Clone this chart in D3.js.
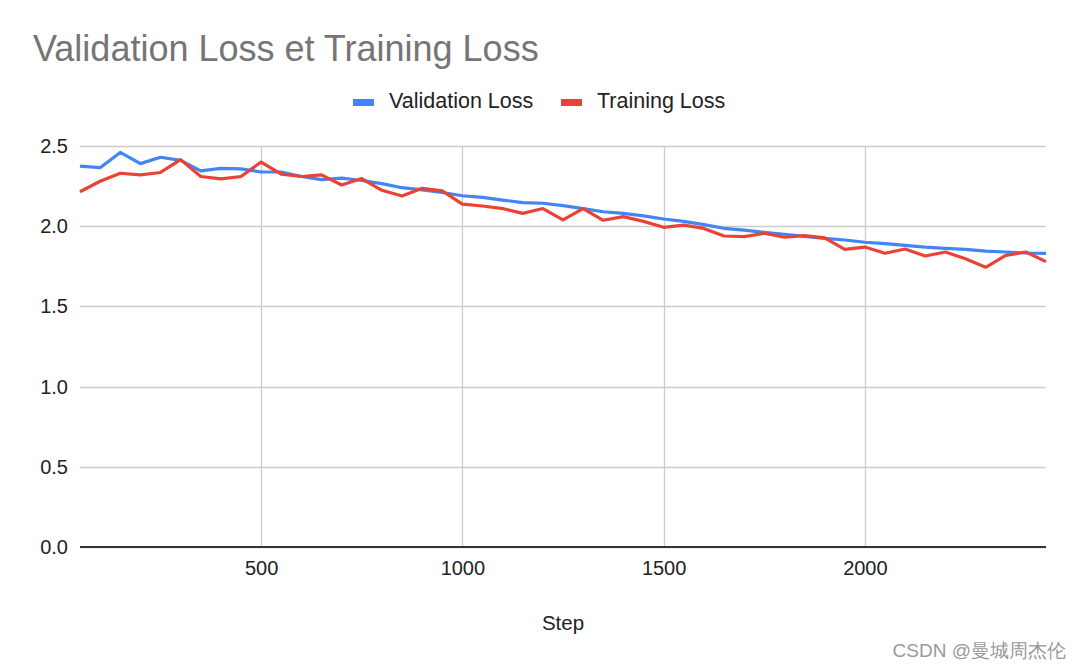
<!DOCTYPE html>
<html>
<head>
<meta charset="utf-8">
<script src="https://d3js.org/d3.v7.min.js"></script>
<style>
  body { margin: 0; background: #fff; }
  text { font-family: "Liberation Sans", Arial, sans-serif; }
</style>
</head>
<body>
<div id="chart"></div>
<script>
// steps 50..2450
var steps = [50,100,150,200,250,300,350,400,450,500,550,600,650,700,750,800,850,900,950,1000,
  1050,1100,1150,1200,1250,1300,1350,1400,1450,1500,1550,1600,1650,1700,1750,1800,1850,1900,1950,2000,
  2050,2100,2150,2200,2250,2300,2350,2400,2450];
var validationLoss = [2.375,2.365,2.46,2.39,2.43,2.41,2.345,2.36,2.357,2.338,2.338,2.31,2.29,2.30,2.285,2.265,2.24,2.226,2.21,2.19,
  2.18,2.163,2.147,2.143,2.128,2.11,2.09,2.08,2.064,2.045,2.03,2.01,1.987,1.976,1.962,1.95,1.937,1.924,1.914,1.90,
  1.891,1.881,1.87,1.862,1.856,1.845,1.839,1.833,1.831];
var trainingLoss = [2.215,2.28,2.33,2.32,2.335,2.415,2.31,2.295,2.31,2.40,2.325,2.31,2.32,2.257,2.297,2.224,2.188,2.236,2.22,2.138,
  2.126,2.11,2.08,2.11,2.04,2.11,2.037,2.06,2.03,1.993,2.007,1.986,1.939,1.935,1.956,1.931,1.941,1.927,1.856,1.87,
  1.831,1.858,1.814,1.839,1.797,1.744,1.818,1.839,1.779];
var yTicks = [0, 0.5, 1.0, 1.5, 2.0, 2.5];
var xTicks = [500, 1000, 1500, 2000];

var W = 1080, H = 668;
var margin = {top: 146, right: 34, bottom: 121, left: 80};
var w = W - margin.left - margin.right, h = H - margin.top - margin.bottom;

var svg = d3.select('#chart').append('svg').attr('width', W).attr('height', H);

svg.append('text').attr('x', 33).attr('y', 61)
  .attr('font-size', 36).attr('fill', '#757575')
  .text('Validation Loss et Training Loss');

var g = svg.append('g').attr('transform', 'translate(' + margin.left + ',' + margin.top + ')');

var x = d3.scaleLinear().domain([50, 2450]).range([0, w]);
var y = d3.scaleLinear().domain([0, 2.5]).range([h, 0]);

// grid
g.selectAll('.hg').data(yTicks).enter().append('line')
  .attr('x1', 0).attr('x2', w)
  .attr('y1', d => Math.round(y(d)) + 0.5).attr('y2', d => Math.round(y(d)) + 0.5)
  .attr('stroke', '#cccccc').attr('stroke-width', 1.3);
g.selectAll('.vg').data(xTicks).enter().append('line')
  .attr('x1', d => Math.round(x(d)) + 0.5).attr('x2', d => Math.round(x(d)) + 0.5)
  .attr('y1', 0).attr('y2', h)
  .attr('stroke', '#cccccc').attr('stroke-width', 1.3);

// axes (labels only)
var yAxis = g.append('g').call(d3.axisLeft(y).tickValues(yTicks).tickFormat(d3.format('.1f')).tickSize(0).tickPadding(12));
yAxis.select('.domain').remove();
yAxis.selectAll('text').attr('font-size', 20).attr('fill', '#222').attr('font-family', '"Liberation Sans", Arial, sans-serif');

var xAxis = g.append('g').attr('transform', 'translate(0,' + h + ')')
  .call(d3.axisBottom(x).tickValues(xTicks).tickFormat(d3.format('d')).tickSize(0).tickPadding(14));
xAxis.select('.domain').remove();
xAxis.selectAll('text').attr('font-size', 20).attr('fill', '#222').attr('font-family', '"Liberation Sans", Arial, sans-serif');

g.append('line').attr('x1', 0).attr('x2', w).attr('y1', h).attr('y2', h)
  .attr('stroke', '#333').attr('stroke-width', 2);

g.append('text').attr('x', w / 2).attr('y', h + 83).attr('text-anchor', 'middle')
  .attr('font-size', 20.5).attr('fill', '#222').text('Step');

// lines
var series = [
  {name: 'Validation Loss', values: validationLoss, color: '#4285F4'},
  {name: 'Training Loss', values: trainingLoss, color: '#EA4335'}
];
var line = d3.line().x((d, i) => x(steps[i])).y(d => y(d));
series.forEach(function(s) {
  g.append('path').datum(s.values).attr('d', line)
    .attr('fill', 'none').attr('stroke', s.color).attr('stroke-width', 3.2)
    .attr('stroke-linejoin', 'round');
});

// legend
var legendX = [353, 561];
series.forEach(function(s, i) {
  svg.append('rect').attr('x', legendX[i]).attr('y', 99).attr('width', 21).attr('height', 7).attr('fill', s.color);
  svg.append('text').attr('x', legendX[i] + 36).attr('y', 108)
    .attr('font-size', 21.5).attr('fill', '#222').text(s.name);
});

// watermark
svg.append('text').attr('x', 1066).attr('y', 657).attr('text-anchor', 'end')
  .attr('font-size', 19).attr('fill', '#999')
  .attr('font-family', '"Noto Sans CJK SC", sans-serif')
  .text('CSDN @曼城周杰伦');
</script>
</body>
</html>
